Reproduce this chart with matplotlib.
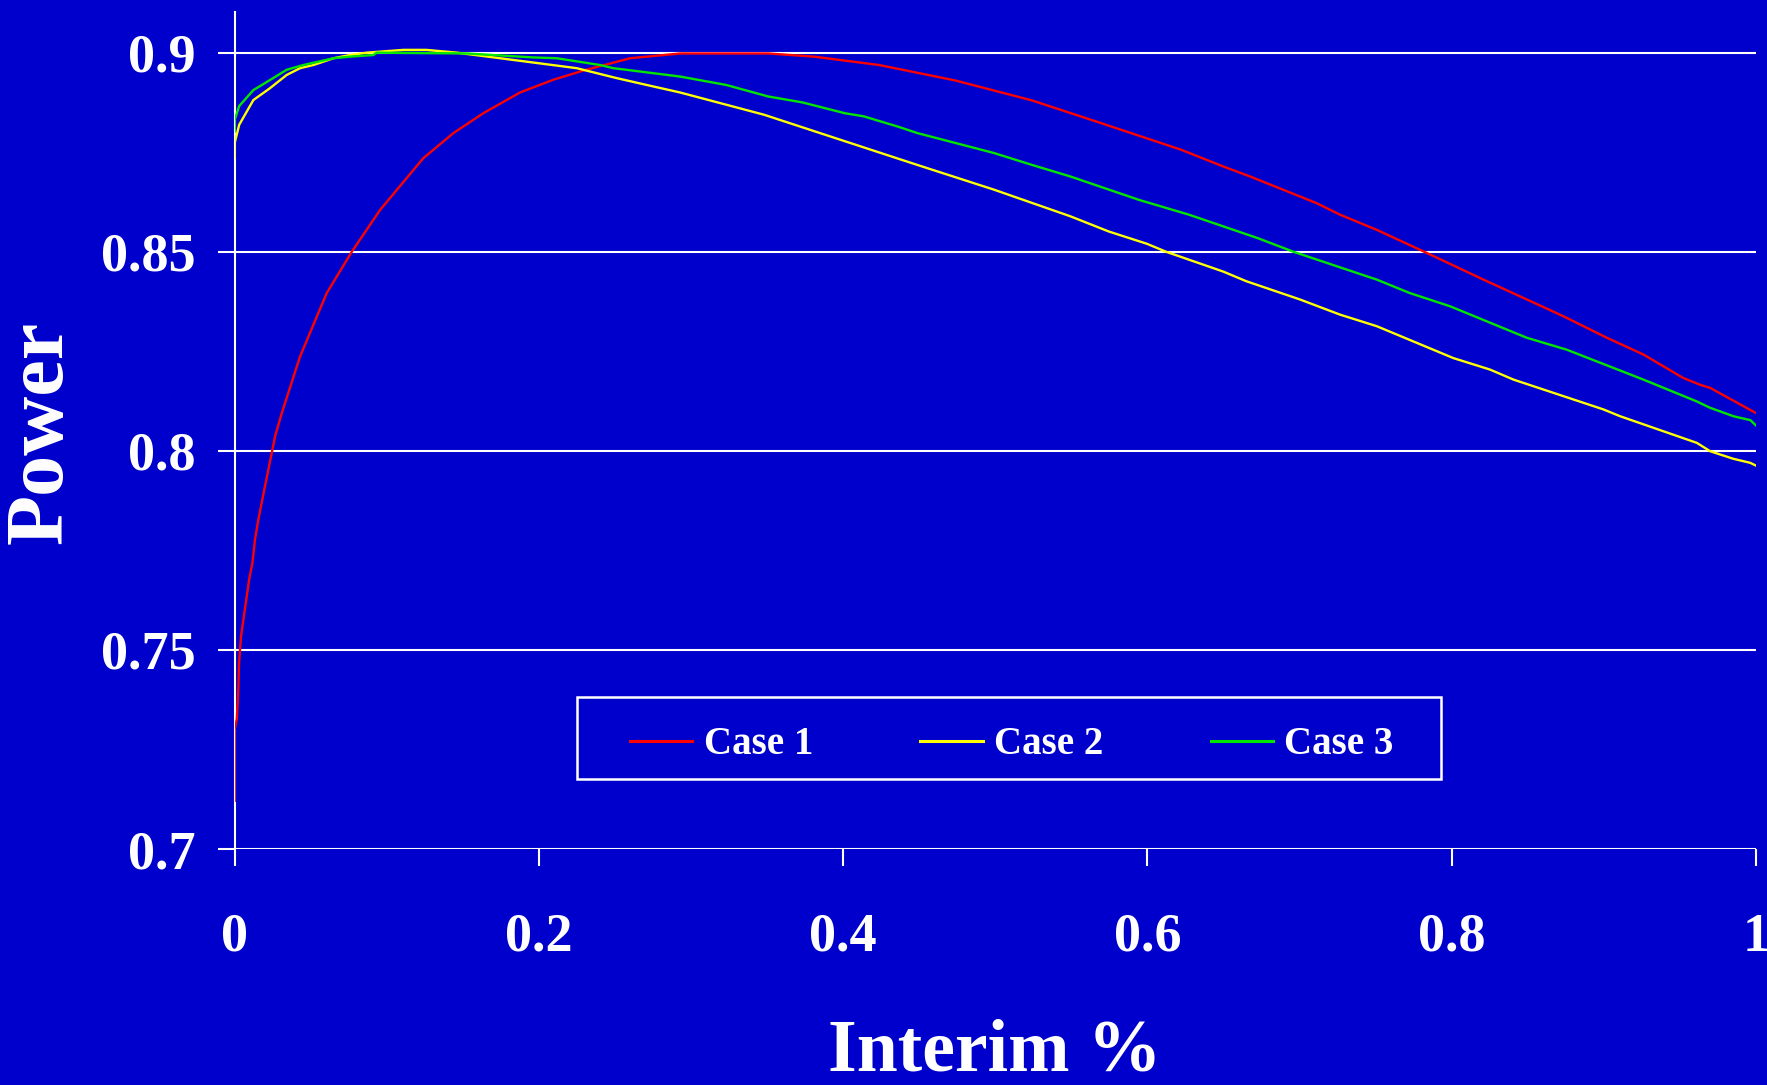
import matplotlib
matplotlib.use('Agg')
import matplotlib.pyplot as plt
from matplotlib.patches import Rectangle

BG = '#0000CC'
FONT = 'Liberation Serif'

# data
case1_x = [0, 0.0, 0.0014, 0.0024, 0.0029, 0.0042, 0.0064, 0.0086, 0.0095, 0.0117, 0.0134,
           0.0156, 0.0195, 0.0226, 0.0266, 0.031, 0.043, 0.0605, 0.077, 0.0956, 0.124, 0.1438,
           0.1635, 0.1876, 0.2095, 0.2292, 0.26, 0.2928, 0.3507, 0.3809, 0.4236, 0.4739, 0.5242,
           0.5696, 0.6223, 0.65, 0.6675, 0.7113, 0.7267, 0.7508, 0.7837, 0.8209, 0.8735, 0.902,
           0.926, 0.9523, 0.9633, 0.97, 1.0]
case1_y = [0.7121, 0.7301, 0.7326, 0.7401, 0.7468, 0.7535, 0.7594, 0.7652, 0.7677, 0.7719, 0.7778,
           0.7828, 0.7903, 0.7961, 0.8037, 0.8095, 0.8237, 0.8396, 0.85, 0.8605, 0.8735, 0.8798,
           0.8848, 0.89, 0.8932, 0.8955, 0.8986, 0.8998, 0.8998, 0.899, 0.8969, 0.893, 0.888,
           0.8823, 0.8756, 0.8714, 0.8689, 0.8622, 0.8593, 0.8555, 0.8497, 0.843, 0.8338, 0.8284,
           0.8242, 0.8183, 0.8166, 0.8158, 0.8095]

case2_x = [0, 0, 0.003, 0.0123, 0.0233, 0.0342, 0.043, 0.0518, 0.065, 0.0759, 0.0868, 0.111,
           0.126, 0.146, 0.1745, 0.2249, 0.2512, 0.273, 0.2928, 0.3481, 0.3984, 0.4488, 0.4991,
           0.5494, 0.5745, 0.5997, 0.6123, 0.65, 0.665, 0.7004, 0.7267, 0.7508, 0.8011, 0.8253,
           0.8406, 0.8998, 0.9107, 0.9612, 0.97, 0.9852, 0.9962, 1.0]
case2_y = [0.8735, 0.8773, 0.8819, 0.8881, 0.8911, 0.8944, 0.8961, 0.8969, 0.8986, 0.8994, 0.9,
           0.9007, 0.9007, 0.9, 0.8986, 0.8961, 0.8936, 0.8917, 0.89, 0.8844, 0.8781, 0.8718,
           0.8656, 0.8589, 0.8551, 0.852, 0.85, 0.845, 0.8426, 0.838, 0.8342, 0.8313, 0.8233,
           0.8204, 0.8179, 0.8104, 0.8087, 0.802, 0.7999, 0.798, 0.797, 0.7963]

case3_x = [0, 0, 0.003, 0.0123, 0.0244, 0.0342, 0.0452, 0.065, 0.0759, 0.0912, 0.0934, 0.1526,
           0.1964, 0.2117, 0.2402, 0.249, 0.2928, 0.323, 0.3507, 0.3733, 0.401, 0.4136, 0.4362,
           0.4488, 0.4991, 0.5242, 0.5494, 0.5947, 0.6274, 0.6727, 0.696, 0.7508, 0.7727, 0.799,
           0.8494, 0.8757, 0.926, 0.9612, 0.97, 0.9852, 0.9964, 1.0]
case3_y = [0.8802, 0.8831, 0.8866, 0.8906, 0.8934, 0.8957, 0.8969, 0.8986, 0.899, 0.8994, 0.9,
           0.8998, 0.8988, 0.8986, 0.8969, 0.8961, 0.894, 0.8919, 0.889, 0.8875, 0.8848, 0.884,
           0.8814, 0.8798, 0.8748, 0.8718, 0.8689, 0.863, 0.8593, 0.8534, 0.85, 0.843, 0.8396,
           0.8363, 0.8284, 0.8254, 0.8179, 0.8124, 0.8108, 0.8087, 0.8077, 0.8064]

labels = ['Case 1', 'Case 2', 'Case 3']
colors = ['#FF0000', '#FFFF00', '#00E600']
xticks = [0, 0.2, 0.4, 0.6, 0.8, 1]
xticklabels = ['0', '0.2', '0.4', '0.6', '0.8', '1']
yticks = [0.7, 0.75, 0.8, 0.85, 0.9]
yticklabels = ['0.7', '0.75', '0.8', '0.85', '0.9']

fig = plt.figure(figsize=(17.67, 10.85), dpi=100, facecolor=BG)
ax = fig.add_axes([0.1328, 0.2175, 0.8609, 0.7714], facecolor=BG)

# gridlines first so the curves sit on top
for yv in yticks:
    ax.axhline(yv, color='white', lw=1.5, zorder=1)

series = [(case1_x, case1_y), (case2_x, case2_y), (case3_x, case3_y)]
for (xs, ys), lab, col in zip(series, labels, colors):
    ax.plot(xs, ys, color=col, lw=1.7, label=lab, zorder=3)

ax.set_xlim(0, 1)
ax.set_ylim(0.7, 0.9102)
ax.set_xticks(xticks)
ax.set_xticklabels(xticklabels)
ax.set_yticks(yticks)
ax.set_yticklabels(yticklabels)

for s in ['top', 'right', 'bottom']:
    ax.spines[s].set_visible(False)
ax.spines['left'].set_color('white')
ax.spines['left'].set_linewidth(1.5)

ax.tick_params(axis='both', colors='white', length=12, width=1.5, direction='out')
ax.tick_params(axis='x', pad=34)
ax.tick_params(axis='y', pad=16)
for t in ax.get_xticklabels() + ax.get_yticklabels():
    t.set_fontfamily(FONT)
    t.set_fontweight('bold')
    t.set_fontsize(39)
    t.set_color('white')

fig.text(42 / 1767, 1 - 432 / 1085, 'Power', rotation=90, ha='center', va='center',
         color='white', fontsize=59, fontweight='bold', family=FONT)
fig.text(995 / 1767, 0.013, 'Interim %', ha='center', va='baseline',
         color='white', fontsize=53, fontweight='bold', family=FONT)

# legend box
leg = ax.legend(loc='center', bbox_to_anchor=(1012 / 1767, 1 - 745 / 1085),
                bbox_transform=fig.transFigure, ncol=3, frameon=False,
                prop={'family': FONT, 'weight': 'bold', 'size': 28},
                handlelength=1.6, handletextpad=0.3, columnspacing=2.75)
for t in leg.get_texts():
    t.set_color('white')
for h in leg.get_lines():
    h.set_linewidth(2.2)
fig.patches.append(Rectangle((577 / 1767, 1 - 779 / 1085), 864 / 1767, 82 / 1085,
                             transform=fig.transFigure, fill=False, ec='white', lw=1.8))

fig.savefig('out.png', dpi=100, facecolor=BG)
